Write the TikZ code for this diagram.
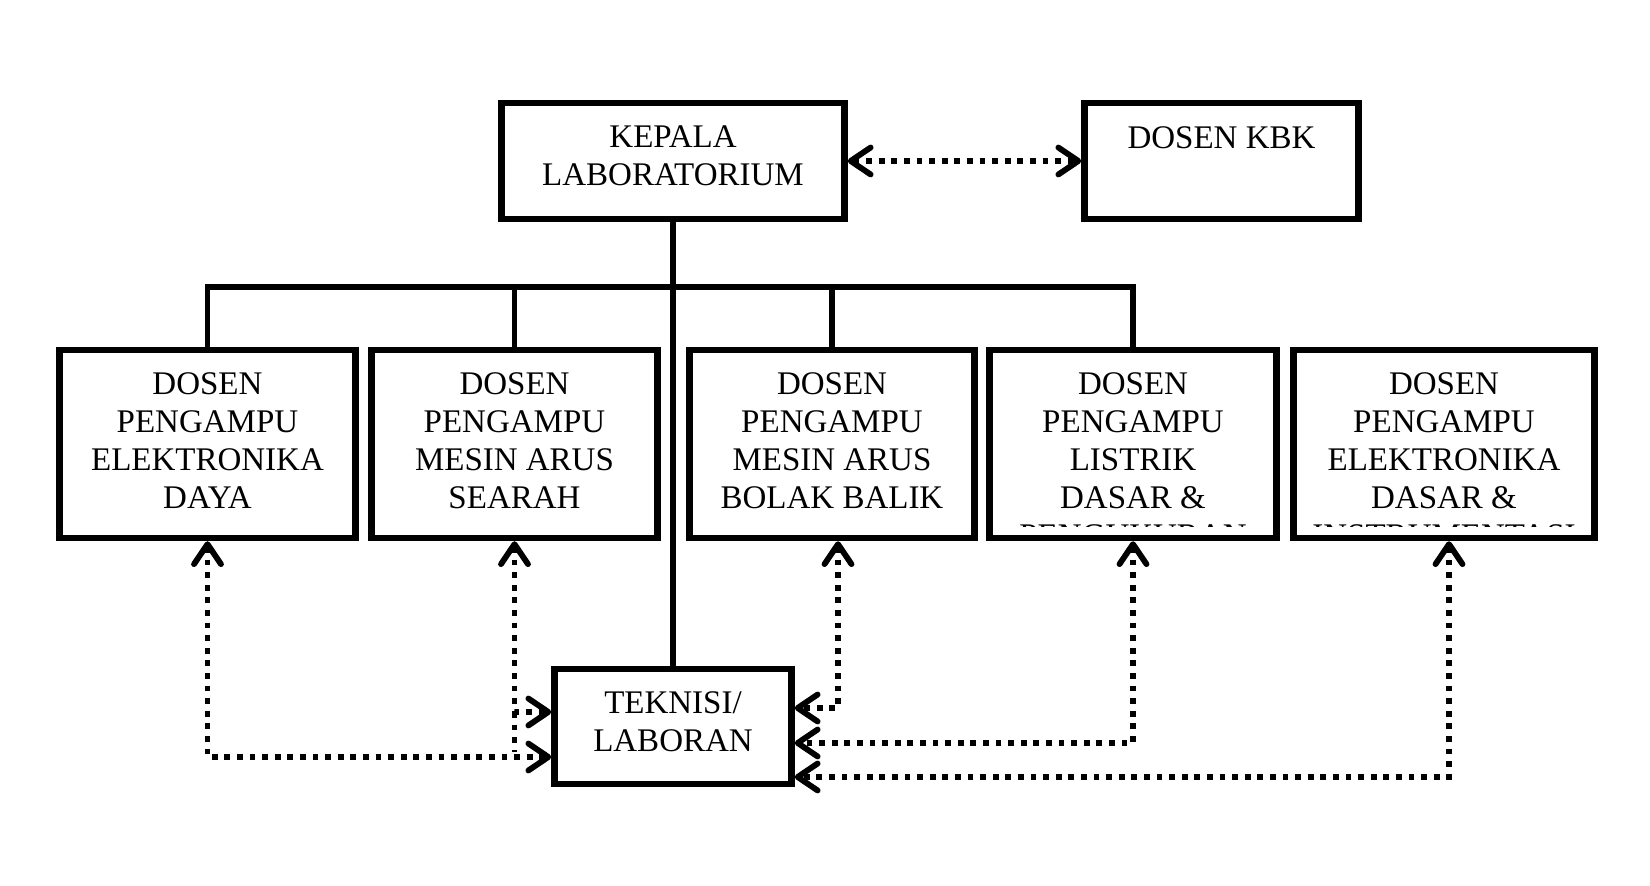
\documentclass[tikz,border=0pt]{standalone}
\usepackage{fontspec}
\setmainfont{Liberation Serif}
\usetikzlibrary{arrows.meta}
\tikzset{orgchart/.style={x=0.5pt,y=-0.5pt,>={Straight Barb[length=10pt,width=13.5pt,round]}}}
\tikzset{orgbox/.style={draw,line width=3.25pt,inner sep=0pt},
         boxtext/.style={anchor=north,align=center,inner sep=0pt,font=\fontsize{16.5}{19}\selectfont},
         bus/.style={line width=2.75pt},
         dotline/.style={line width=2.9pt,dash pattern=on 2.9pt off 3.4pt},
         dotlink/.style={dotline,<->}}

\begin{document}
\begin{tikzpicture}[orgchart]
    \useasboundingbox (0,0) rectangle (1650,886);
    % boxes
    \node[orgbox,minimum width=171.5pt,minimum height=58pt] (kepala) at (673,161) {};
    \node[orgbox,minimum width=137pt,minimum height=58pt] (kbk) at (1221.5,161) {};
    \node[orgbox,minimum width=148pt,minimum height=94pt] (daya) at (207.5,444) {};
    \node[orgbox,minimum width=143pt,minimum height=94pt] (searah) at (514.5,444) {};
    \node[orgbox,minimum width=142.5pt,minimum height=94pt] (bolak) at (832,444) {};
    \node[orgbox,minimum width=143.5pt,minimum height=94pt] (listrik) at (1133,444) {};
    \node[orgbox,minimum width=150.5pt,minimum height=94pt] (instr) at (1444,444) {};
    \node[orgbox,minimum width=118.5pt,minimum height=57.5pt] (teknisi) at (673,726.5) {};
    % texts
    \node[boxtext] (kepala-t) at (673,125) {KEPALA\\LABORATORIUM};
    \node[boxtext] (kbk-t) at (1221.5,126) {DOSEN KBK};
    \node[boxtext] (daya-t) at (207.5,372) {DOSEN\\PENGAMPU\\ELEKTRONIKA\\DAYA};
    \node[boxtext] (searah-t) at (514.5,372) {DOSEN\\PENGAMPU\\MESIN ARUS\\SEARAH};
    \node[boxtext] (bolak-t) at (832,372) {DOSEN\\PENGAMPU\\MESIN ARUS\\BOLAK BALIK};
    \begin{scope}
      \clip (987,347) rectangle (1597,527);
      \node[boxtext] (listrik-t) at (1133,372) {DOSEN\\PENGAMPU\\LISTRIK\\DASAR \&\\PENGUKURAN};
      \node[boxtext] (instr-t) at (1444,372) {DOSEN\\PENGAMPU\\ELEKTRONIKA\\DASAR \&\\INSTRUMENTASI};
    \end{scope}
    \node[boxtext] (teknisi-t) at (673,691) {TEKNISI/\\LABORAN};
    % solid lines
    \coordinate (bus) at (673,287);
    \draw[bus] (kepala.south) -- (teknisi.north);
    \draw[bus] (daya.north) |- (bus) -| (listrik.north);
    \draw[bus] (searah.north) -- (searah.north |- bus);
    \draw[bus] (bolak.north) -- (bolak.north |- bus);
    % dotted links
    \draw[dotlink] (kepala.east) -- (kbk.west);
    \draw[dotlink] (daya.south) |- ([yshift=-15.25pt]teknisi.west);
    \draw[dotlink] (searah.south) |- ([yshift=7.25pt]teknisi.west);
    \draw[dotline] ([yshift=7.25pt]teknisi.west -| searah.south) -- ([yshift=-13pt]teknisi.west -| searah.south);
    \draw[dotlink] ([xshift=3pt]bolak.south) |- ([yshift=9.25pt]teknisi.east);
    \draw[dotlink] (listrik.south) |- ([yshift=-8.25pt]teknisi.east);
    \draw[dotlink] ([xshift=2.5pt]instr.south) |- ([yshift=-25.25pt]teknisi.east);
  \end{tikzpicture}
\end{document}
